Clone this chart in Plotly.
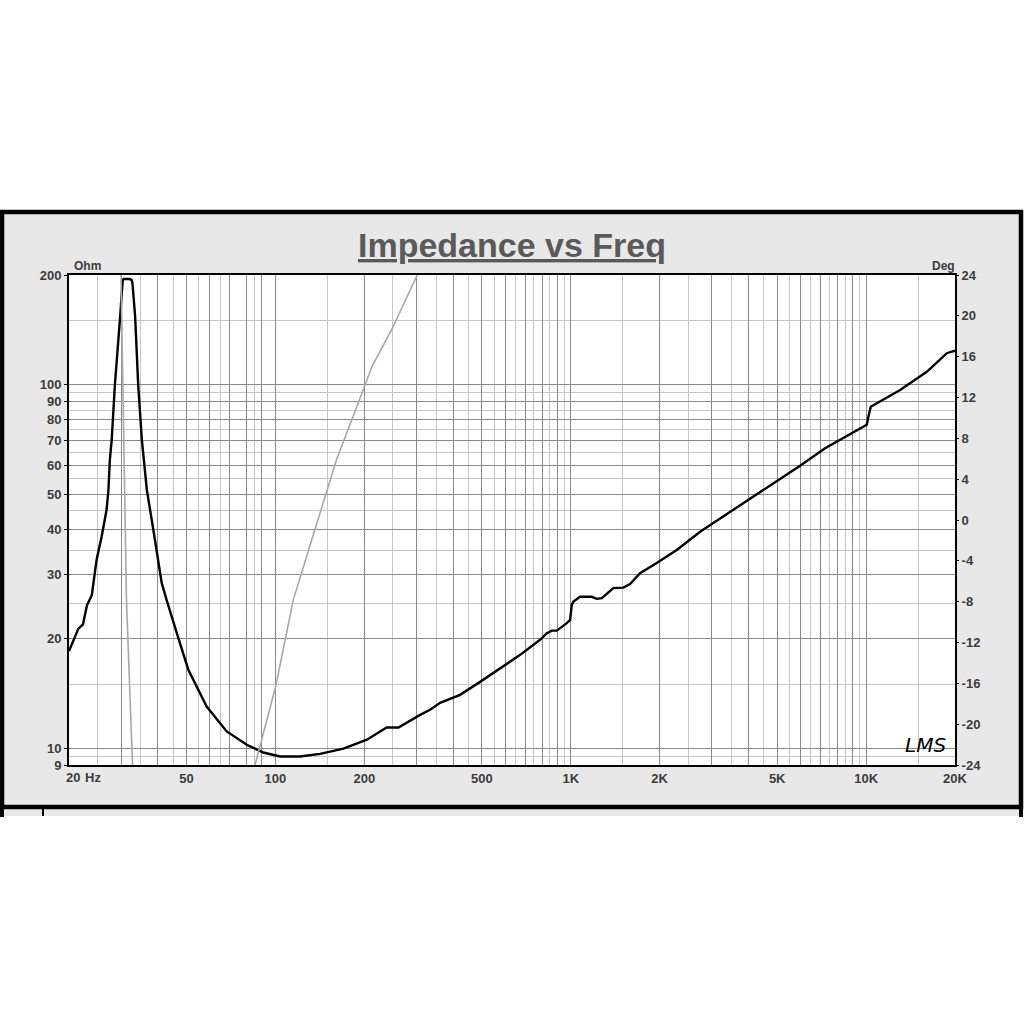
import plotly.graph_objects as go

# impedance magnitude (black curve)
freq_hz = [20, 21.5, 22.3, 23.0, 23.9, 24.8, 25.8, 26.8, 27.2, 27.5,
           27.9, 28.6, 29.8, 30.4, 30.7, 32.0, 32.6, 32.8, 33.5, 34.3,
           35.3, 35.7, 36.7, 38.6, 41.2, 42.8, 44.5, 46.3, 50.7, 58.5,
           68.4, 80.0, 91.0, 103.6, 121, 141.6, 170, 204, 238, 261,
           309, 334, 361, 390, 422, 493, 576, 674, 787, 830,
           863, 897, 969, 995, 1008, 1021, 1075, 1178, 1225, 1274,
           1394, 1507, 1588, 1716, 1955, 2285, 2741, 4048, 5977, 7262,
           10052, 10177, 10370, 13037, 16053, 18764, 20000]
impedance_ohm = [18.5, 21.3, 21.9, 24.7, 26.4, 33.0, 38.2, 45.2, 51.3, 62.1,
                 70.4, 99.7, 153.6, 193.8, 195, 195, 194, 190, 153.6, 99.7,
                 70.4, 64.9, 51.3, 39.9, 28.5, 25.6, 23.0, 20.8, 16.45, 13.03,
                 11.13, 10.23, 9.74, 9.5, 9.5, 9.66, 9.98, 10.56, 11.41, 11.41,
                 12.36, 12.76, 13.34, 13.68, 14.03, 15.23, 16.62, 18.07, 19.88, 20.73,
                 21.07, 21.07, 22.08, 22.55, 24.8, 25.32, 26.1, 26.1, 25.76, 25.88,
                 27.56, 27.66, 28.3, 30.3, 32.3, 35.1, 39.4, 48.5, 59.8, 66.8,
                 77.5, 81.6, 86.9, 96.6, 108.4, 121.9, 123.9]

# phase (grey curve), mostly off the +/-24 deg scale
phase_hz = [20, 26, 29.0, 30.0, 31.3, 32.5, 34, 45, 60, 75,
            85.3, 100.4, 115, 130, 161, 201, 212, 250, 302, 350]
phase_deg = [70, 50, 32, 24, -7.8, -24, -36, -52, -48, -35,
             -24, -16.2, -7.8, -2.8, 5.9, 13.2, 15.0, 18.9, 24, 30]

# grid / tick values
x_major = [20, 30, 40, 50, 60, 70, 80, 90, 100, 200, 300, 400, 500, 600, 700, 800, 900,
           1000, 2000, 3000, 4000, 5000, 6000, 7000, 8000, 9000, 10000, 20000]
x_labels = {50: "50", 100: "100", 200: "200", 500: "500", 1000: "1K",
            2000: "2K", 5000: "5K", 10000: "10K", 20000: "20K"}
x_minor = [25, 35, 45, 55, 65, 85, 150, 250, 350, 450, 550, 650, 750, 850, 950,
           1500, 2500, 3500, 4500, 5500, 6500, 7500, 8500, 9500, 15000]
y_major = [9, 10, 20, 30, 40, 50, 60, 70, 80, 90, 100, 200]
y_minor = [9.5, 15, 25, 35, 45, 55, 65, 75, 85, 95, 150]
deg_ticks = [-24, -20, -16, -12, -8, -4, 0, 4, 8, 12, 16, 20, 24]

# plot box in page pixels
SIZE = 1024
L, R, T, B = 69, 955, 275, 765
def px(x):
    return (x - L) / (R - L)
def py(y):
    return (B - y) / (B - T)

FONT = "Arial, Liberation Sans, sans-serif"
TXT = "#3c3c3c"
DARK_GRID = "#8a8a8a"
LIGHT_GRID = "#c6c6c6"

fig = go.Figure()
fig.add_trace(go.Scatter(x=phase_hz, y=phase_deg, yaxis="y2", mode="lines",
                         line=dict(color="#a8a8a8", width=1.6), hoverinfo="skip"))
fig.add_trace(go.Scatter(x=freq_hz, y=impedance_ohm, mode="lines",
                         line=dict(color="black", width=2.4), hoverinfo="skip"))

tickfont = dict(family=FONT, size=13, color=TXT, weight="bold")

fig.update_layout(
    width=SIZE, height=SIZE,
    margin=dict(l=L, r=SIZE - R, t=T, b=SIZE - B),
    paper_bgcolor="white", plot_bgcolor="white",
    showlegend=False,
    xaxis=dict(type="log", range=[1.30103, 4.30103],
               tickmode="array", tickvals=x_major,
               ticktext=[x_labels.get(v, "") for v in x_major],
               showgrid=True, gridcolor=DARK_GRID, gridwidth=1,
               minor=dict(tickmode="array", tickvals=x_minor, showgrid=True,
                          gridcolor=LIGHT_GRID, gridwidth=1, ticks=""),
               ticks="", tickfont=tickfont,
               showline=True, linecolor="black", linewidth=2, mirror=True,
               zeroline=False),
    yaxis=dict(type="log", range=[0.954243, 2.30103],
               tickmode="array", tickvals=y_major,
               ticktext=[str(v) for v in y_major],
               showgrid=True, gridcolor=DARK_GRID, gridwidth=1,
               minor=dict(tickmode="array", tickvals=y_minor, showgrid=True,
                          gridcolor=LIGHT_GRID, gridwidth=1, ticks=""),
               ticks="outside", ticklen=3, tickcolor="black", tickfont=tickfont,
               showline=True, linecolor="black", linewidth=2, mirror=True,
               zeroline=False),
    yaxis2=dict(overlaying="y", side="right", range=[-24, 24],
                tickmode="array", tickvals=deg_ticks,
                ticktext=[str(v) for v in deg_ticks],
                showgrid=False, zeroline=False, ticks="outside", ticklen=3,
                tickcolor="black", tickfont=tickfont),
)

# outer panel, plot background and the cut-off panel below
shapes = [
    dict(type="rect", xref="paper", yref="paper", x0=px(2), x1=px(1021),
         y0=py(816), y1=py(809), fillcolor="#e8e8e8", line=dict(width=0), layer="below"),
    dict(type="line", xref="paper", yref="paper", x0=px(43), x1=px(43),
         y0=py(816), y1=py(808), line=dict(color="black", width=2), layer="below"),
    dict(type="line", xref="paper", yref="paper", x0=px(2), x1=px(2),
         y0=py(817), y1=py(808), line=dict(color="black", width=4), layer="below"),
    dict(type="line", xref="paper", yref="paper", x0=px(1021), x1=px(1021),
         y0=py(817), y1=py(808), line=dict(color="black", width=4), layer="below"),
    dict(type="rect", xref="paper", yref="paper", x0=px(2), x1=px(1021),
         y0=py(807), y1=py(212), fillcolor="#e8e8e8",
         line=dict(color="black", width=4.5), layer="below"),
    dict(type="rect", xref="paper", yref="paper", x0=0, x1=1, y0=0, y1=1,
         fillcolor="white", line=dict(width=0), layer="below"),
]
fig.update_layout(shapes=shapes)

label_font = dict(family=FONT, size=12, color=TXT, weight="bold")
fig.add_annotation(text="<u>Impedance vs Freq</u>", x=0.5, y=py(245),
                   xref="paper", yref="paper", showarrow=False,
                   xanchor="center", yanchor="middle",
                   font=dict(family=FONT, size=34, color="#5a5a5a", weight="bold"))
fig.add_annotation(text="Ohm", x=px(72), y=py(266), xref="paper", yref="paper",
                   showarrow=False, xanchor="left", yanchor="middle", font=label_font)
fig.add_annotation(text="Deg", x=px(957), y=py(266), xref="paper", yref="paper",
                   showarrow=False, xanchor="right", yanchor="middle", font=label_font)
fig.add_annotation(text="20", x=px(72.5), y=py(777), xref="paper", yref="paper",
                   showarrow=False, xanchor="center", yanchor="middle", font=tickfont)
fig.add_annotation(text="Hz", x=px(93), y=py(777), xref="paper", yref="paper",
                   showarrow=False, xanchor="center", yanchor="middle", font=tickfont)
fig.add_annotation(text="<i>LMS</i>", x=px(925), y=py(745), xref="paper", yref="paper",
                   showarrow=False, xanchor="center", yanchor="middle",
                   font=dict(family="DejaVu Sans", size=20, color="black"))

# drop the browser's default 8px body margin so the figure sits at 0,0
fig.write_html("out.html", config={"displayModeBar": False},
               post_script="document.body.style.margin = '0px';")
